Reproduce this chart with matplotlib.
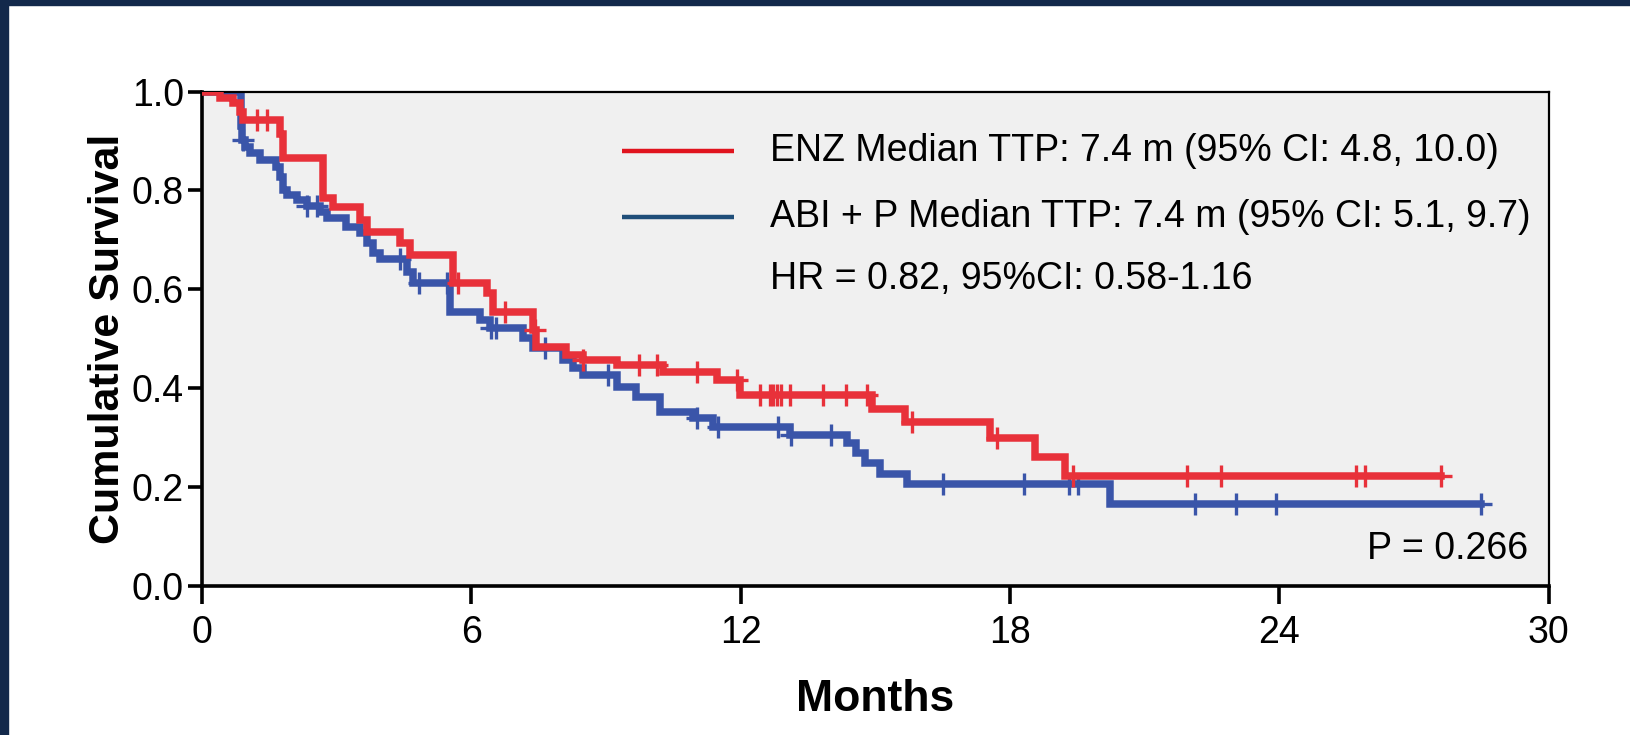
import numpy as np
import matplotlib.pyplot as plt
from matplotlib.patches import Rectangle

plt.rcParams['font.family'] = ['Liberation Sans', 'DejaVu Sans']

# ENZ arm: event times (months) and survival after each event
enz_event_t = [0.40, 0.70, 0.85, 0.92, 1.74, 1.81, 2.70, 2.92, 3.52, 3.67, 4.41, 4.63,
               5.60, 6.34, 6.49, 7.38, 7.45, 8.11, 8.49, 9.24, 10.28, 11.47, 11.98,
               14.92, 15.66, 17.55, 18.56, 19.22]
enz_surv = [0.986, 0.976, 0.959, 0.942, 0.915, 0.865, 0.784, 0.767, 0.740, 0.716, 0.693, 0.669,
            0.612, 0.592, 0.555, 0.518, 0.484, 0.467, 0.457, 0.447, 0.433, 0.417, 0.386,
            0.357, 0.331, 0.299, 0.261, 0.223]
enz_censor_t = [1.23, 1.46, 5.71, 6.75, 7.42, 8.49, 9.74, 10.13, 11.04, 11.91, 12.43, 12.65,
                12.73, 12.82, 12.91, 13.11, 13.83, 14.34, 14.82, 15.82, 17.72, 19.40,
                21.94, 22.70, 25.71, 25.91, 27.60]

# ABI + P arm
abi_event_t = [0.86, 0.90, 0.95, 1.07, 1.29, 1.66, 1.74, 1.81, 1.89, 2.11, 2.33, 2.63, 2.78,
               3.22, 3.52, 3.67, 3.82, 3.97, 4.56, 4.71, 5.52, 6.19, 6.42, 7.16, 7.38, 8.05,
               8.27, 8.49, 9.24, 9.68, 10.20, 10.94, 11.39, 13.10, 14.36, 14.58, 14.77,
               15.10, 15.70, 20.23]
abi_surv = [0.930, 0.902, 0.888, 0.875, 0.861, 0.848, 0.828, 0.801, 0.791, 0.781, 0.768, 0.757,
            0.744, 0.727, 0.713, 0.693, 0.673, 0.661, 0.635, 0.612, 0.555, 0.538, 0.521, 0.501,
            0.481, 0.457, 0.440, 0.427, 0.403, 0.383, 0.352, 0.339, 0.322, 0.305, 0.289,
            0.268, 0.248, 0.226, 0.206, 0.166]
abi_censor_t = [0.91, 2.33, 2.56, 4.41, 4.84, 5.45, 6.45, 6.56, 7.64, 9.05, 11.02, 11.50,
                12.84, 13.13, 14.01, 16.51, 18.32, 19.32, 19.52, 22.12, 23.03, 23.92, 28.49]

legend_labels = ['ENZ Median TTP: 7.4 m (95% CI: 4.8, 10.0)',
                 'ABI + P Median TTP: 7.4 m (95% CI: 5.1, 9.7)']
hr_text = 'HR = 0.82, 95%CI: 0.58-1.16'
p_text = 'P = 0.266'

RED = '#E8313A'
BLUE = '#3A55A9'


def km_steps(times, surv, end):
    x = np.concatenate([[0.0], times, [end]])
    y = np.concatenate([[1.0], surv, [surv[-1]]])
    return x, y


def surv_at(times, surv, t):
    idx = np.searchsorted(times, t, side='right')
    vals = np.concatenate([[1.0], surv])
    return vals[idx]


fig = plt.figure(figsize=(16.3, 7.35), dpi=100)
ax = fig.add_axes([0.1239, 0.2027, 0.8261, 0.6728])
ax.set_facecolor('#F0F0F0')

for t, s, c, col, z in [(abi_event_t, abi_surv, abi_censor_t, BLUE, 2),
                        (enz_event_t, enz_surv, enz_censor_t, RED, 3)]:
    x, y = km_steps(t, s, max(c))
    ax.step(x, y, where='post', color=col, lw=5.4, zorder=z, solid_joinstyle='miter')
    ax.plot(c, surv_at(np.array(t), np.array(s), np.array(c)), linestyle='none',
            marker='+', markersize=16, markeredgewidth=2.4, color=col, zorder=z)

ax.set_xlim(0, 30)
ax.set_ylim(0, 1)
ax.set_xticks(range(0, 31, 6))
ax.set_yticks(np.arange(0, 1.01, 0.2))
ax.set_yticklabels([f'{v:.1f}' for v in np.arange(0, 1.01, 0.2)])
ax.tick_params(axis='both', labelsize=27, width=2.6, color='black')
ax.tick_params(axis='x', length=13, pad=8)
ax.tick_params(axis='y', length=10, pad=3)

for side in ['left', 'bottom']:
    ax.spines[side].set_linewidth(2.6)
for side in ['top', 'right']:
    ax.spines[side].set_linewidth(1.6)

ax.set_xlabel('Months', fontsize=32, fontweight='bold', labelpad=20)
ax.set_ylabel('Cumulative Survival', fontsize=31, fontweight='bold', labelpad=3)

# legend drawn by hand inside the plot area
ax.plot([9.35, 11.85], [0.88, 0.88], color='#E0141E', lw=3.2, solid_capstyle='butt')
ax.plot([9.35, 11.85], [0.746, 0.746], color='#1F4E79', lw=3.2, solid_capstyle='butt')
ax.text(12.65, 0.88, legend_labels[0], fontsize=27, va='center', ha='left')
ax.text(12.65, 0.746, legend_labels[1], fontsize=27, va='center', ha='left')
ax.text(12.65, 0.621, hr_text, fontsize=27, va='center', ha='left')
ax.text(29.55, 0.075, p_text, fontsize=27, va='center', ha='right')

# navy frame strips on the left and top edges
fig.add_artist(Rectangle((0, 0), 8 / 1630, 1, transform=fig.transFigure,
                         color='#13294B', zorder=10))
fig.add_artist(Rectangle((0, 1 - 5 / 735), 1, 5 / 735, transform=fig.transFigure,
                         color='#13294B', zorder=10))

fig.savefig('out.png', dpi=100)
